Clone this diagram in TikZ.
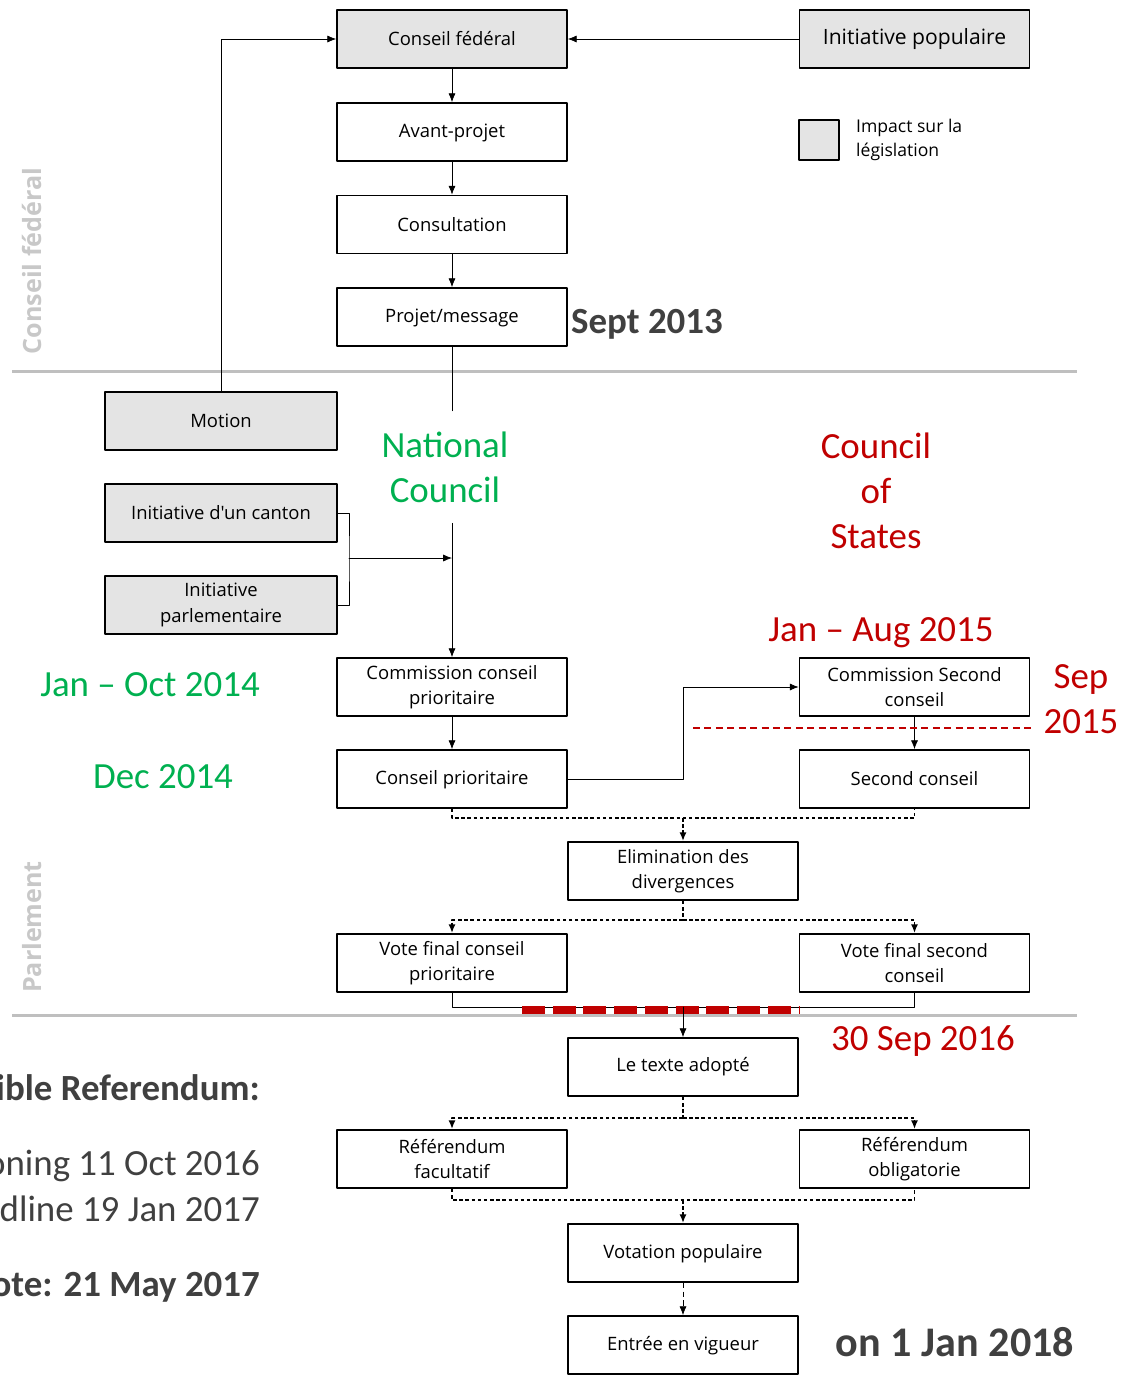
\documentclass[tikz,border=0pt]{standalone}
\usepackage{fontspec}
\setmainfont{Carlito}
\newfontfamily\boxfont{Open Sans}
\usetikzlibrary{arrows.meta}
\definecolor{boxgray}{RGB}{228,228,228}
\definecolor{natgreen}{RGB}{0,176,80}
\definecolor{stred}{RGB}{192,0,0}
\definecolor{darktxt}{RGB}{64,64,64}
\definecolor{sepgray}{RGB}{191,191,191}
\definecolor{lanegray}{RGB}{200,200,200}
\tikzset{
  box/.style={draw,line width=1pt,minimum width=4.6cm,minimum height=1.16cm,inner sep=1pt,align=center,
    font=\boxfont\fontsize{10.5}{14.5}\selectfont,text=black},
  impact/.style={box,fill=boxgray},
  dotline/.style={line width=1pt,line cap=butt,dash pattern=on 2pt off 1.5pt},
  sepline/.style={sepgray,line width=1.7pt,line cap=butt},
  lane/.style={rotate=90,text=lanegray,font=\boxfont\bfseries\fontsize{14.3}{18}\selectfont},
  big/.style={font=\fontsize{21}{25.5}\selectfont,align=center},
  bigbold/.style={big,text=darktxt,font=\bfseries\fontsize{21}{25.5}\selectfont},
}
\begin{document}
\begin{tikzpicture}[x=0.02cm,y=-0.02cm,>={Latex[length=5pt,width=4pt]},line join=round,line cap=round]
			\useasboundingbox (0,0) rectangle (1121,1380);
			\draw[sepline] (12,371)--(1077,371);
			\draw[sepline] (12,1015)--(1077,1015);
			\node[lane] (laneCF) at (32,261) {Conseil fédéral};
			\node[lane] (lanePA) at (32,927) {Parlement};
			\node[impact] (cf) at (452,39) {Conseil fédéral};
			\node[impact,font=\boxfont\fontsize{12}{14}\selectfont] (ip) at (914.5,39) {\raisebox{-1.5pt}{Initiative populaire}};
			\node[box] (ap) at (452,132) {\strut Avant-projet};
			\node[box] (cons) at (452,224.5) {Consultation};
			\node[box] (pm) at (452,317) {\strut Projet/message};
			\node[impact,minimum width=0.8cm,minimum height=0.8cm] (leg) at (819,140) {};
			\node[anchor=west,align=left,font=\boxfont\fontsize{10}{13.5}\selectfont,text=black] (legtxt) at (850,140) {Impact sur la\\législation};
			\node[impact,minimum width=4.64cm] (motion) at (221,421) {Motion};
			\node[impact,minimum width=4.64cm] (canton) at (221,513) {Initiative d'un canton};
			\node[impact,minimum width=4.64cm] (parl) at (221,605) {Initiative\\parlementaire};
			\node[box] (ccp) at (452,687) {Commission conseil\\prioritaire};
			\node[box] (cp) at (452,779) {\strut Conseil prioritaire};
			\node[box] (csc) at (914.5,687) {Commission Second\\conseil};
			\node[box] (sc) at (914.5,779) {Second conseil};
			\node[box] (elim) at (683,871) {Elimination des\\divergences};
			\node[box] (vfcp) at (452,963) {Vote final conseil\\prioritaire};
			\node[box] (vfsc) at (914.5,963) {Vote final second\\conseil};
			\node[box] (texte) at (683,1067) {Le texte adopté};
			\node[box] (rf) at (452,1159) {Référendum\\facultatif};
			\node[box] (ro) at (914.5,1159) {Référendum\\obligatorie};
			\node[box] (vote) at (683,1253) {\strut Votation populaire};
			\node[box] (entree) at (683,1345) {\strut Entrée en vigueur};
			\node[big,text=natgreen,minimum height=2.24cm] (nc) at (445,467) {National\\Council};
			\node[big,text=stred] (cs) at (876,491) {Council\\of\\States};
			\coordinate (br) at (349,558);
			\coordinate (m1) at (683,818);
			\coordinate (s1) at (683,920);
			\coordinate (m2) at (683,1007);
			\coordinate (s2) at (683,1118);
			\coordinate (m3) at (683,1200);
			\draw[->] (cf)--(ap);
			\draw[->] (ap)--(cons);
			\draw[->] (cons)--(pm);
			\draw[->] (ip)--(cf);
			\draw[->] (motion.north) |- (cf.west);
			\draw (pm.south)--(pm.south |- nc.north);
			\draw[->] (pm.south |- nc.south)--(ccp.north);
			\draw (canton.east) -| (br) |- (parl.east);
			\draw[->] (br)--(br -| ccp.north);
			\draw[->] (ccp)--(cp);
			\draw[->] (cp.east)--(cp.east -| elim.north) |- (csc.west);
			\draw[->] (csc)--(sc);
			\draw[stred,line width=1pt,line cap=butt,dash pattern=on 4pt off 2.5pt] (693,728)--(1033,728);
			\draw[dotline] (cp.south) |- (m1) -| (sc.south);
			\draw[dotline,->] (m1)--(elim.north);
			\draw[dotline] (elim.south)--(s1);
			\draw[dotline,->] (s1) -| (vfcp.north);
			\draw[dotline,->] (s1) -| (vfsc.north);
			\draw (vfcp.south) |- (m2) -| (vfsc.south);
			\draw[stred,line width=4pt,line cap=butt,dash pattern=on 13pt off 4.5pt] (522,1010)--(800,1010);
			\draw[->] (m2)--(texte.north);
			\draw[dotline] (texte.south)--(s2);
			\draw[dotline,->] (s2) -| (rf.north);
			\draw[dotline,->] (s2) -| (ro.north);
			\draw[dotline] (rf.south) |- (m3) -| (ro.south);
			\draw[dotline,->] (m3)--(vote.north);
			\draw[densely dashed,line cap=butt,->] (vote)--(entree);
			\node[bigbold,anchor=west] (d13) at (565,324) {Sept 2013};
			\node[big,text=natgreen] (d14a) at (150,685) {Jan – Oct 2014};
			\node[big,text=natgreen] (d14b) at (163,777) {Dec 2014};
			\node[big,text=stred] (d15a) at (881,633) {Jan – Aug 2015};
			\node[big,text=stred] (d15b) at (1081,699) {Sep\\2015};
			\node[big,text=stred] (d16) at (923,1041) {30 Sep 2016};
			\node[bigbold,anchor=east] (ref) at (266,1088) {ible Referendum:};
			\node[big,anchor=east,text=darktxt] (open) at (266,1166) {oning 11 Oct 2016};
			\node[big,anchor=east,text=darktxt] (dead) at (266,1209) {dline 19 Jan 2017};
			\node[bigbold,anchor=east] (vdate) at (266,1287) {ote: 21 May 2017};
			\node[bigbold,font=\bfseries\fontsize{24}{28}\selectfont] (d18) at (955,1342) {on 1 Jan 2018};
\end{tikzpicture}
\end{document}
